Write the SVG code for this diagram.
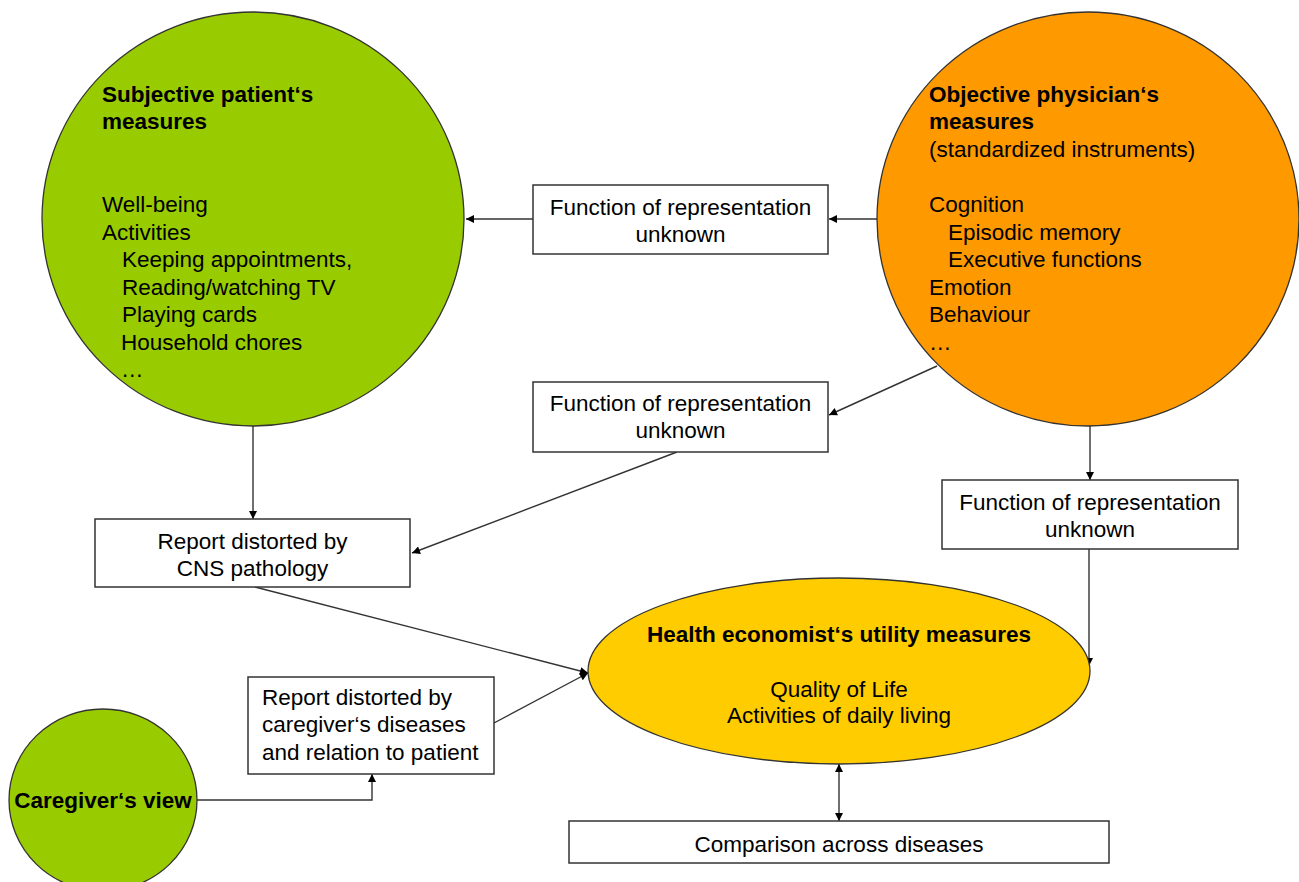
<svg xmlns="http://www.w3.org/2000/svg" width="1299" height="882" viewBox="0 0 1299 882">
<style>
  .t{font-family:"Liberation Sans",Arial,sans-serif;font-size:22.5px;fill:#000}
  .b{font-weight:bold}
  .m{text-anchor:middle}
  .box{fill:#fff;stroke:#333;stroke-width:1.5}
  .node{stroke:#333;stroke-width:1.3}
  .con{fill:none;stroke:#333;stroke-width:1.4}
</style>
<defs>
  <marker id="arr" viewBox="0 0 10 10" refX="10" refY="5" markerWidth="10" markerHeight="8" orient="auto-start-reverse" markerUnits="userSpaceOnUse">
    <path d="M0,0 L10,5 L0,10 z" fill="#000"/>
  </marker>
</defs>
<rect width="1299" height="882" fill="#fff"/>

<g id="connectors">
  <line class="con" x1="533" y1="219" x2="466" y2="219" marker-end="url(#arr)"/>
  <line class="con" x1="877" y1="219" x2="829" y2="219" marker-end="url(#arr)"/>
  <line class="con" x1="937" y1="366" x2="829" y2="415" marker-end="url(#arr)"/>
  <line class="con" x1="253" y1="426" x2="253" y2="519" marker-end="url(#arr)"/>
  <line class="con" x1="677" y1="452" x2="412" y2="553" marker-end="url(#arr)"/>
  <line class="con" x1="1090" y1="426" x2="1090" y2="480" marker-end="url(#arr)"/>
  <line class="con" x1="1089" y1="549" x2="1089" y2="666" marker-end="url(#arr)"/>
  <line class="con" x1="255" y1="587" x2="588" y2="673" marker-end="url(#arr)"/>
  <line class="con" x1="494" y1="723" x2="588" y2="673" marker-end="url(#arr)"/>
  <polyline class="con" points="197,800 372,800 372,774" marker-end="url(#arr)"/>
  <line class="con" x1="839" y1="764" x2="839" y2="821" marker-start="url(#arr)" marker-end="url(#arr)"/>
</g>

<g id="subjective">
  <ellipse class="node" cx="253" cy="219" rx="211" ry="207" fill="#99CC00"/>
  <text class="t b" x="102" y="102">Subjective patient‘s</text>
  <text class="t b" x="102" y="129">measures</text>
  <text class="t" x="102" y="212">Well-being</text>
  <text class="t" x="102" y="239.5">Activities</text>
  <text class="t" x="122" y="267">Keeping appointments,</text>
  <text class="t" x="122" y="294.5">Reading/watching TV</text>
  <text class="t" x="122" y="322">Playing cards</text>
  <text class="t" x="121" y="349.5">Household chores</text>
  <text class="t" x="121" y="377">…</text>
</g>

<g id="objective">
  <ellipse class="node" cx="1088" cy="219" rx="211" ry="207" fill="#FF9900"/>
  <text class="t b" x="929" y="102">Objective physician‘s</text>
  <text class="t b" x="929" y="129">measures</text>
  <text class="t" x="929" y="157">(standardized instruments)</text>
  <text class="t" x="929" y="212">Cognition</text>
  <text class="t" x="948" y="239.5">Episodic memory</text>
  <text class="t" x="948" y="267">Executive functions</text>
  <text class="t" x="929" y="294.5">Emotion</text>
  <text class="t" x="929" y="322">Behaviour</text>
  <text class="t" x="929" y="349.5">…</text>
</g>

<g id="func1">
  <rect class="box" x="533" y="185" width="295" height="69"/>
  <text class="t m" x="680.5" y="215">Function of representation</text>
  <text class="t m" x="680.5" y="242">unknown</text>
</g>

<g id="func2">
  <rect class="box" x="533" y="382" width="295" height="70"/>
  <text class="t m" x="680.5" y="411">Function of representation</text>
  <text class="t m" x="680.5" y="438">unknown</text>
</g>

<g id="func3">
  <rect class="box" x="942" y="480" width="296" height="69"/>
  <text class="t m" x="1090" y="510">Function of representation</text>
  <text class="t m" x="1090" y="537">unknown</text>
</g>

<g id="cns">
  <rect class="box" x="95" y="519" width="315" height="68"/>
  <text class="t m" x="252.5" y="549">Report distorted by</text>
  <text class="t m" x="252.5" y="576">CNS pathology</text>
</g>

<g id="caregiver-report">
  <rect class="box" x="248" y="677" width="246" height="97"/>
  <text class="t" x="262" y="705">Report distorted by</text>
  <text class="t" x="262" y="732">caregiver‘s diseases</text>
  <text class="t" x="262" y="760">and relation to patient</text>
</g>

<g id="caregiver">
  <ellipse class="node" cx="103" cy="800" rx="94" ry="91" fill="#99CC00"/>
  <text class="t b m" x="103" y="808">Caregiver‘s view</text>
</g>

<g id="health">
  <ellipse class="node" cx="839" cy="671" rx="251" ry="93" fill="#FFCC00"/>
  <text class="t b m" x="839" y="642">Health economist‘s utility measures</text>
  <text class="t m" x="839" y="697">Quality of Life</text>
  <text class="t m" x="839" y="723">Activities of daily living</text>
</g>

<g id="comparison">
  <rect class="box" x="569" y="821" width="540" height="42"/>
  <text class="t m" x="839" y="852">Comparison across diseases</text>
</g>
</svg>
